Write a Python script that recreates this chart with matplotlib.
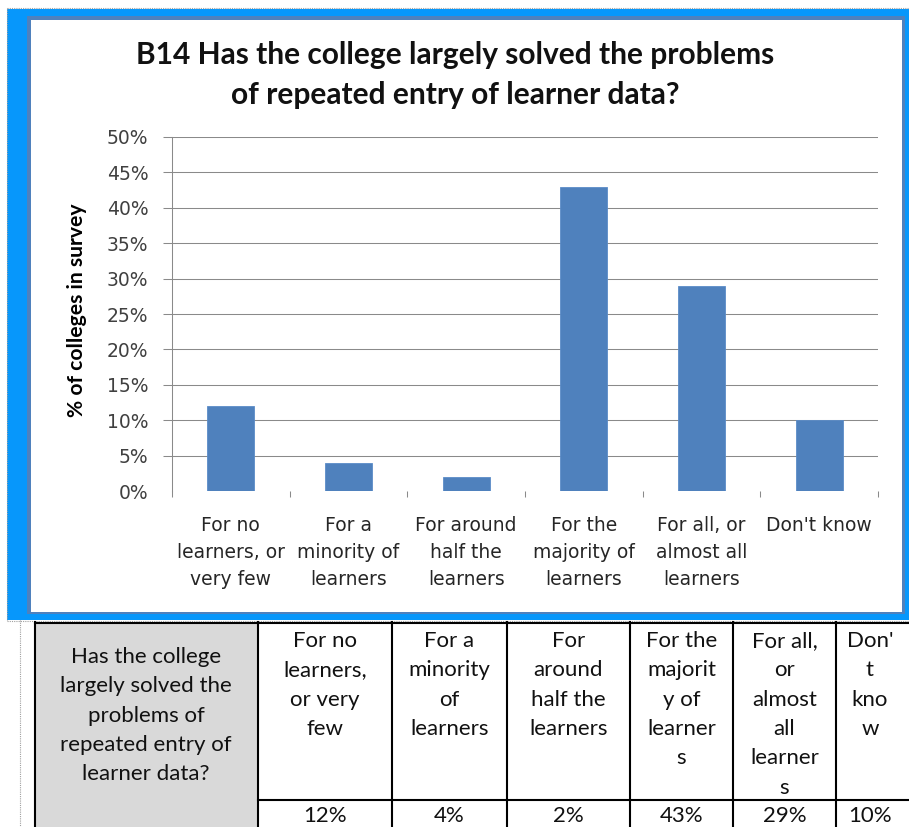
import matplotlib
matplotlib.use("Agg")
import matplotlib.pyplot as plt
from matplotlib.patches import Rectangle
from matplotlib.lines import Line2D
from matplotlib.ticker import FuncFormatter, FixedLocator

# survey answers for question B14
categories = ["For no\nlearners, or\nvery few", "For a\nminority of\nlearners",
              "For around\nhalf the\nlearners", "For the\nmajority of\nlearners",
              "For all, or\nalmost all\nlearners", "Don't know"]
shares = [0.12, 0.04, 0.02, 0.43, 0.29, 0.10]

# same answers as they wrap inside the narrow table cells
table_heads = [["For no", "learners,", "or very", "few"],
               ["For a", "minority", "of", "learners"],
               ["For", "around", "half the", "learners"],
               ["For the", "majorit", "y of", "learner", "s"],
               ["For all,", "or", "almost", "all", "learner", "s"],
               ["Don'", "t", "kno", "w"]]
row_title = ["Has the college", "largely solved the", "problems of",
             "repeated entry of", "learner data?"]
col_edges = [258, 392, 507, 630, 733, 836, 912]

W, H = 909, 827
fig = plt.figure(figsize=(W / 100, H / 100), dpi=100)


def fx(x):
    return x / W


def fy(y):
    return 1 - y / H


def box(x0, y0, x1, y1, **kw):
    fig.add_artist(Rectangle((fx(x0), fy(y1)), fx(x1) - fx(x0), fy(y0) - fy(y1),
                             transform=fig.transFigure, **kw))


def line(xs, ys, **kw):
    fig.add_artist(Line2D([fx(x) for x in xs], [fy(y) for y in ys],
                          transform=fig.transFigure, **kw))


# chart frame
box(7, 9, 915, 620, facecolor="#0797fb", edgecolor="none", zorder=0)
box(27, 16, 905, 614, facecolor="#4f81bd", edgecolor="none", zorder=0)
box(31, 20, 902, 612, facecolor="white", edgecolor="none", zorder=0)
line([7, 909], [8, 8], color="#a0a0a0", lw=0.8, ls=(0, (1, 1)))
line([6.5, 6.5], [8, 620], color="#a0a0a0", lw=0.8, ls=(0, (1, 1)))
line([7, 909], [620.5, 620.5], color="#a0a0a0", lw=0.8, ls=(0, (1, 1)))
line([20, 20], [620, 827], color="#a0a0a0", lw=0.8, ls=(0, (1, 1)))

ax = fig.add_axes([fx(172), fy(491), fx(878) - fx(172), fy(137) - fy(491)])
ax.set_facecolor("none")
x = range(len(shares))
ax.bar(x, shares, width=0.4, color="#4f81bd", edgecolor="#5b8cc8", linewidth=0.6, zorder=3)
ax.set_xlim(-0.5, len(shares) - 0.5)
ax.set_ylim(0, 0.5)

grid_c = "#8a8a8a"
ax.set_yticks([i * 0.05 for i in range(11)])
ax.yaxis.set_major_formatter(FuncFormatter(lambda v, p: f"{v * 100:.0f}%"))
ax.tick_params(axis="y", length=6.5, width=0.75, color=grid_c, pad=10.5,
               labelsize=13.5, labelcolor="#404040")
ax.grid(axis="y", color=grid_c, lw=0.75)
ax.yaxis.get_gridlines()[0].set_visible(False)
ax.yaxis.get_major_ticks()[0].tick1line.set_visible(False)

ax.set_xticks(list(x))
ax.set_xticklabels(categories, fontsize=13.5, color="#262626", linespacing=1.53)
ax.xaxis.set_minor_locator(FixedLocator([i - 0.5 for i in range(len(shares) + 1)]))
ax.tick_params(axis="x", which="major", length=0, pad=18)
ax.tick_params(axis="x", which="minor", length=4.3, width=0.75, color=grid_c)

for s in ["top", "right", "bottom"]:
    ax.spines[s].set_visible(False)
ax.spines["left"].set_color(grid_c)
ax.spines["left"].set_linewidth(0.75)

ax.set_ylabel("% of colleges in survey", family="Lato", weight="bold", fontsize=15.2,
              va="center", ha="center")
ax.yaxis.set_label_coords((77 - 172) / 706, (491 - 310) / 354)

fig.text(fx(455), fy(75), "B14 Has the college largely solved the problems\nof repeated entry of learner data?",
         family="Lato", weight="bold", fontsize=21.5, ha="center", va="center",
         linespacing=1.52, color="#111111")

# table under the chart
box(35, 622, 258, 830, facecolor="#d9d9d9", edgecolor="none", zorder=1)
lw_t = 1.5
line([35, 912], [622.5, 622.5], color="black", lw=lw_t, zorder=2)
line([258, 912], [800, 800], color="black", lw=lw_t, zorder=2)
for xe in [35] + col_edges[:-1]:
    line([xe, xe], [622, 830], color="black", lw=lw_t, zorder=2)

tfont = dict(family="Lato", fontsize=16, color="#111111", ha="center", va="baseline")
for i, s in enumerate(row_title):
    fig.text(fx(146), fy(663 + i * 29.3), s, **tfont)
for c, (heads, val) in enumerate(zip(table_heads, shares)):
    xc = (col_edges[c] + col_edges[c + 1]) / 2 if c < 5 else 870
    for i, s in enumerate(heads):
        fig.text(fx(xc), fy(647 + i * 29.3), s, **tfont)
    fig.text(fx(xc), fy(822), f"{val * 100:.0f}%", **tfont)

fig.savefig("out.png", dpi=100)
